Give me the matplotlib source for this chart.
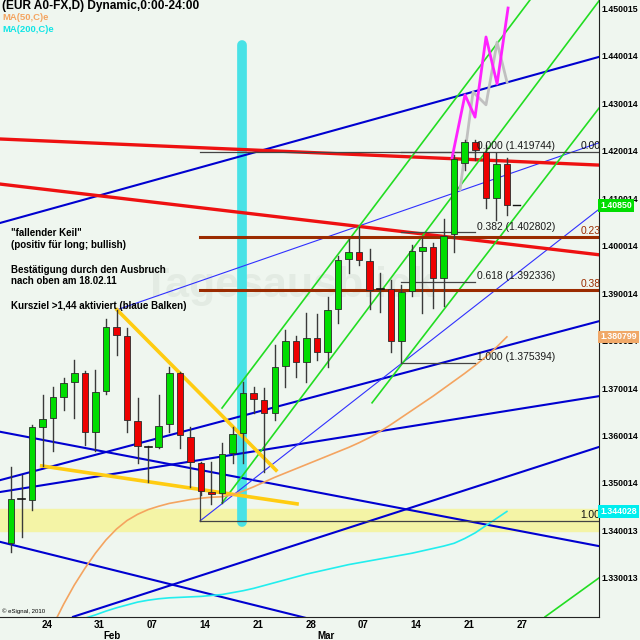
import matplotlib.pyplot as plt

plt.rcParams['font.family'] = ['Liberation Sans', 'DejaVu Sans']

# ---- Kerzen EUR/USD (Tageskerzen, Index 0 = erste Kerze links) ----
opens = [1.3374, 1.3466, 1.3464, 1.3618, 1.3637, 1.3681, 1.3713, 1.3732, 1.3608, 1.3694,
         1.3829, 1.3810, 1.3631, 1.3576, 1.3576, 1.3624, 1.3732, 1.3597, 1.3542, 1.3481,
         1.3479, 1.3563, 1.3605, 1.3690, 1.3675, 1.3648, 1.3747, 1.3799, 1.3755, 1.3806,
         1.3776, 1.3867, 1.3972, 1.3987, 1.3968, 1.3909, 1.3909, 1.3799, 1.3905, 1.3989,
         1.3997, 1.3932, 1.4025, 1.4174, 1.4219, 1.4198, 1.4101, 1.4172]
highs = [1.3534, 1.3517, 1.3622, 1.3685, 1.3702, 1.3721, 1.3759, 1.3735, 1.3738, 1.3846,
         1.3865, 1.3827, 1.3679, 1.3578, 1.3685, 1.3745, 1.3734, 1.3618, 1.3544, 1.3544,
         1.3584, 1.3618, 1.3713, 1.3702, 1.3700, 1.3791, 1.3822, 1.3810, 1.3858, 1.3856,
         1.3892, 1.3978, 1.4014, 1.4040, 1.3993, 1.3943, 1.3928, 1.3917, 1.4002, 1.4016,
         1.4006, 1.4056, 1.4191, 1.4223, 1.4223, 1.4212, 1.4196, 1.4185]
lows = [1.3355, 1.3386, 1.3443, 1.3536, 1.3567, 1.3654, 1.3637, 1.3580, 1.3567, 1.3688,
        1.3770, 1.3608, 1.3542, 1.3502, 1.3574, 1.3608, 1.3574, 1.3492, 1.3475, 1.3456,
        1.3458, 1.3542, 1.3542, 1.3648, 1.3523, 1.3633, 1.3702, 1.3723, 1.3713, 1.3759,
        1.3745, 1.3837, 1.3943, 1.3959, 1.3867, 1.3860, 1.3776, 1.3754, 1.3894, 1.3858,
        1.3869, 1.3873, 1.3987, 1.4160, 1.4181, 1.4080, 1.4054, 1.4065]
closes = [1.3466, 1.3466, 1.3618, 1.3635, 1.3681, 1.3711, 1.3732, 1.3608, 1.3692, 1.3829,
          1.3812, 1.3633, 1.3578, 1.3576, 1.3620, 1.3732, 1.3601, 1.3544, 1.3483, 1.3477,
          1.3561, 1.3603, 1.3690, 1.3677, 1.3648, 1.3745, 1.3799, 1.3755, 1.3806, 1.3776,
          1.3865, 1.3970, 1.3987, 1.3970, 1.3907, 1.3909, 1.3799, 1.3903, 1.3989, 1.3997,
          1.3932, 1.4021, 1.4183, 1.4219, 1.4202, 1.4101, 1.4172, 1.4085]
last_price = 1.4085

# gleitende Durchschnitte
ma50_start = 4
ma50 = [1.3201, 1.3245, 1.3285, 1.3320, 1.3352, 1.3380, 1.3403, 1.3421, 1.3434, 1.3444,
        1.3451, 1.3457, 1.3461, 1.3465, 1.3468, 1.3470, 1.3471, 1.3475, 1.3483, 1.3492,
        1.3502, 1.3512, 1.3521, 1.3530, 1.3539, 1.3548, 1.3557, 1.3566, 1.3575, 1.3585,
        1.3596, 1.3609, 1.3623, 1.3638, 1.3653, 1.3668, 1.3683, 1.3699, 1.3715, 1.3731,
        1.3748, 1.3766, 1.3786, 1.3808]
ma200_start = 7
ma200 = [1.3215, 1.3222, 1.3230, 1.3237, 1.3243, 1.3249, 1.3253, 1.3256, 1.3258, 1.3259,
         1.3260, 1.3261, 1.3263, 1.3265, 1.3269, 1.3273, 1.3278, 1.3284, 1.3290, 1.3296,
         1.3302, 1.3308, 1.3313, 1.3318, 1.3323, 1.3328, 1.3332, 1.3336, 1.3340, 1.3344,
         1.3348, 1.3352, 1.3357, 1.3362, 1.3367, 1.3373, 1.3383, 1.3395, 1.3410, 1.3425,
         1.3440]

# Trendlinien: ((Index, Kurs), (Index, Kurs))
blue_lines = [((-1.04, 1.4048), (55.73, 1.4398)),
              ((-1.04, 1.3608), (55.73, 1.3367)),
              ((-1.04, 1.3506), (55.73, 1.3841)),
              ((-1.04, 1.3481), (55.73, 1.3683)),
              ((-1.04, 1.3376), (55.73, 1.3062)),
              ((5.88, 1.3218), (55.73, 1.3576))]
blue_thin_lines = [((10.05, 1.3865), (55.73, 1.4217)),
                   ((17.91, 1.3420), (55.73, 1.4077))]
red_lines = [((-1.04, 1.4225), (55.73, 1.4170)),
             ((-1.04, 1.4130), (55.73, 1.3981))]
green_lines = [((20.0, 1.3658), (49.19, 1.4518)),
               ((20.0, 1.3458), (55.73, 1.4516)),
               ((34.22, 1.3669), (55.73, 1.4290)),
               ((50.62, 1.3218), (55.73, 1.3300))]
wedge_lines = [((10.05, 1.3865), (25.12, 1.3527)),
               ((2.91, 1.3536), (27.11, 1.3456))]
brown_levels = [1.4019, 1.3907]
brown_start = 17.91

# Projektionen
proj_magenta_x = [41.80, 43.03, 43.98, 45.02, 46.07, 47.11]
proj_magenta_y = [1.4185, 1.4318, 1.4271, 1.4440, 1.4341, 1.4501]
proj_gray_x = [42.56, 43.79, 45.02, 46.07, 47.01]
proj_gray_y = [1.4118, 1.4324, 1.4297, 1.4429, 1.4345]

# Fibonacci
fib1_levels = [1.419744, 1.402802, 1.392336, 1.375394]
fib1_names = ['0.000', '0.382', '0.618', '1.000']
fib1_range = (36.97, 43.98)
fib2_levels = [1.419744, 1.401910, 1.390670, 1.341990]
fib2_names = ['0.00', '0.23', '0.38', '1.00']
fib2_colors = ['#111111', '#9b2b00', '#9b2b00', '#111111']
fib2_start = 17.91

band = (1.3399, 1.3445)
cyan_bar = (21.9, 1.3418, 1.4423)

ytick_vals = [1.450015, 1.440014, 1.430014, 1.420014, 1.410014, 1.400014, 1.390014,
              1.380014, 1.370014, 1.360014, 1.350014, 1.340013, 1.330013]
xtick_pos = [3.4, 8.4, 13.4, 18.4, 23.4, 28.4, 33.4, 38.4, 43.4, 48.4]
xtick_labels = ['24', '31', '07', '14', '21', '28', '07', '14', '21', '27']
months = [(9.6, 'Feb'), (29.9, 'Mar')]

bg = '#eff6ef'
fig = plt.figure(figsize=(6.4, 6.4), dpi=100, facecolor=bg)
ax = fig.add_axes([0, 23 / 640, 599 / 640, 617 / 640], facecolor=bg)
ax.set_xlim(-1.043, 55.73)
ax.set_ylim(1.32176, 1.45179)

# Hintergrund-Elemente
ax.axhspan(band[0], band[1], color='#f4f4a6', zorder=0.5)
ax.text(12.5, 1.3892, 'Tagesausblick', fontsize=31, fontweight='bold',
        color='#e3ebe3', zorder=0.6)
ax.plot([cyan_bar[0], cyan_bar[0]], [cyan_bar[1], cyan_bar[2]], color='#48e2e6',
        lw=7, solid_capstyle='round', zorder=1)

for (x0, y0), (x1, y1) in blue_lines:
    ax.plot([x0, x1], [y0, y1], color='#0000d0', lw=1.5, zorder=2)
for (x0, y0), (x1, y1) in blue_thin_lines:
    ax.plot([x0, x1], [y0, y1], color='#3030ff', lw=0.8, zorder=2)
for (x0, y0), (x1, y1) in red_lines:
    ax.plot([x0, x1], [y0, y1], color='#ee1111', lw=2.4, zorder=2)
for (x0, y0), (x1, y1) in green_lines:
    ax.plot([x0, x1], [y0, y1], color='#22dd22', lw=1.2, zorder=2)
for (x0, y0), (x1, y1) in wedge_lines:
    ax.plot([x0, x1], [y0, y1], color='#ffcc11', lw=2.6, zorder=2)
for lv in brown_levels:
    ax.plot([brown_start, 55.73], [lv, lv], color='#9b2b00', lw=2.2, zorder=2)

ax.plot(range(ma50_start, ma50_start + len(ma50)), ma50, color='#f4a460', lw=1.2, zorder=2)
ax.plot(range(ma200_start, ma200_start + len(ma200)), ma200, color='#22eeee', lw=1.2, zorder=2)

# Fibonacci-Linien
for lv, name in zip(fib1_levels, fib1_names):
    ax.plot(fib1_range, [lv, lv], color='#444444', lw=0.9, zorder=2)
    ax.text(fib1_range[1] + 0.15, lv + 0.0002, f'{name} ({lv:.6f})', fontsize=7.4,
            color='#1a1a1a', va='bottom', zorder=4)
for lv, name, c in zip(fib2_levels, fib2_names, fib2_colors):
    if name in ('0.00', '1.00'):
        ax.plot([fib2_start, 55.73], [lv, lv], color='#444444', lw=0.9, zorder=2)
    ax.text(53.95, lv + 0.0002, name, fontsize=7.4, color=c, va='bottom', zorder=4,
            clip_on=True)
ax.plot([fib2_start, fib2_start], [fib2_levels[3], 1.3542], color='#444444', lw=0.9, zorder=2)

ax.plot(proj_gray_x, proj_gray_y, color='#c0c0c0', lw=2, zorder=2.2)
ax.plot(proj_magenta_x, proj_magenta_y, color='#ff22ff', lw=2, zorder=2.3)

# Kerzen
for i, (o, h, l, c) in enumerate(zip(opens, highs, lows, closes)):
    ax.plot([i, i], [l, h], color='#3a3a3a', lw=1, zorder=3)
    if o == c:
        ax.plot([i - 0.33, i + 0.33], [o, o], color='#111111', lw=1.2, zorder=3.1)
    else:
        col = '#00dd00' if c > o else '#ee0000'
        ax.bar(i, abs(c - o), bottom=min(o, c), width=0.62, color=col,
               edgecolor='#2a2a2a', linewidth=0.6, zorder=3.1)
ax.plot([47.6, 48.25], [last_price, last_price], color='#111111', lw=1, zorder=3)

# Achsen
for s in ['top', 'left']:
    ax.spines[s].set_visible(False)
ax.spines['right'].set_color('#222222')
ax.spines['bottom'].set_color('#222222')
ax.yaxis.tick_right()
ax.set_yticks(ytick_vals)
ax.set_yticklabels([f'{v:.6f}' for v in ytick_vals], fontsize=6.3, fontweight='bold')
ax.tick_params(axis='y', length=0, pad=1.5)
ax.set_xticks(xtick_pos)
ax.set_xticklabels(xtick_labels, fontsize=7, fontweight='bold')
ax.tick_params(axis='x', length=0, pad=2)
for xm, name in months:
    ax.text(xm, -0.031, name, transform=ax.get_xaxis_transform(), fontsize=7,
            fontweight='bold', ha='center', va='center')

# Kurs-Marken rechts
for val, txt, fc in [(last_price, '1.40850', '#00dd00'), (1.380799, '1.380799', '#f0a868'),
                     (1.344028, '1.344028', '#00eeee')]:
    ax.text(1.002, val, txt, transform=ax.get_yaxis_transform(), fontsize=6.3,
            fontweight='bold', color='white', va='center', ha='left', zorder=5,
            bbox=dict(boxstyle='square,pad=0.2', fc=fc, ec='none'), clip_on=False)

# Texte
fig.text(2 / 640, 1 - 6 / 640, '(EUR A0-FX,D) Dynamic,0:00-24:00', fontsize=8.6,
         fontweight='bold', va='center')
fig.text(2 / 640, 1 - 17 / 640, 'MA(50,C)e', fontsize=6.8, fontweight='bold',
         color='#f4a460', va='center')
fig.text(2 / 640, 1 - 29.5 / 640, 'MA(200,C)e', fontsize=6.8, fontweight='bold',
         color='#11e5e5', va='center')
notes = [(232.7, '"fallender Keil"'), (245, '(positiv für long; bullish)'),
         (270, 'Bestätigung durch den Ausbruch'), (281.5, 'nach oben am 18.02.11'),
         (305.7, 'Kursziel >1,44 aktiviert (blaue Balken)')]
for yp, t in notes:
    fig.text(11 / 640, 1 - yp / 640, t, fontsize=7, fontweight='bold', va='center')
fig.text(2 / 640, 1 - 611.5 / 640, '© eSignal, 2010', fontsize=4.3, va='center')

fig.savefig('out.png', dpi=100, facecolor=bg)
